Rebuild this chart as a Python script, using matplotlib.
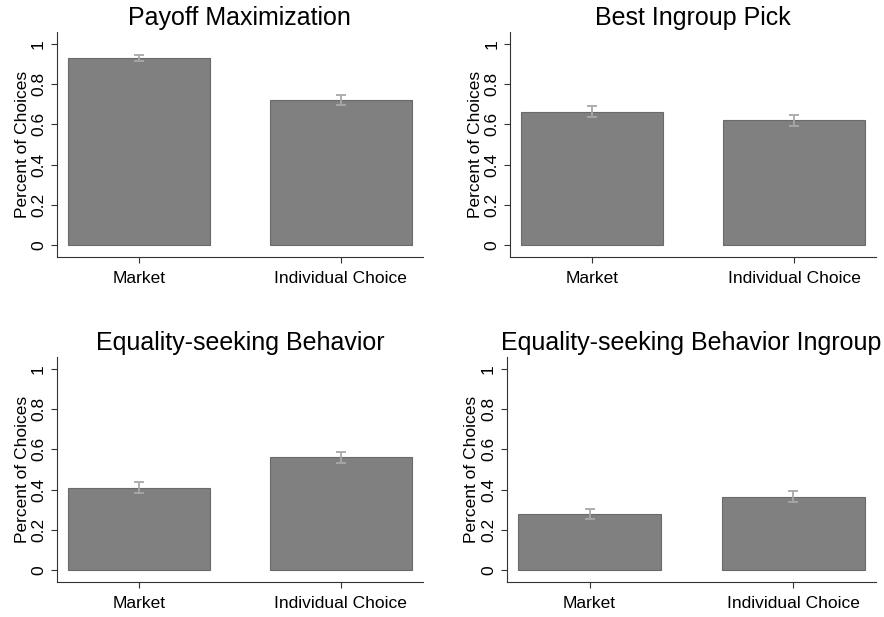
import matplotlib.pyplot as plt

plt.rcParams['font.family'] = ['Liberation Sans', 'DejaVu Sans']

# data
groups = ['Market', 'Individual Choice']
titles = ['Payoff Maximization', 'Best Ingroup Pick',
          'Equality-seeking Behavior', 'Equality-seeking Behavior Ingroup']
means = [[0.930, 0.719],
         [0.663, 0.620],
         [0.407, 0.560],
         [0.279, 0.365]]
lower = [[0.915, 0.696],
         [0.638, 0.593],
         [0.382, 0.532],
         [0.254, 0.340]]
upper = [[0.945, 0.744],
         [0.691, 0.648],
         [0.436, 0.587],
         [0.305, 0.393]]
yticks = [0, 0.2, 0.4, 0.6, 0.8, 1]
ytick_labels = ['0', '0.2', '0.4', '0.6', '0.8', '1']

W, H = 884, 617
fig = plt.figure(figsize=(W / 100, H / 100), dpi=100)

# axes boxes in pixels: left, right, top, bottom
boxes = [(57, 422.7, 32.3, 256.7),
         (510.3, 876, 32.3, 256.7),
         (57, 422.7, 357.3, 581.7),
         (507, 876, 357.3, 581.7)]

for k in range(4):
    l, r, t, b = boxes[k]
    ax = fig.add_axes([l / W, 1 - b / H, (r - l) / W, (b - t) / H])
    x = list(range(len(groups)))
    ax.bar(x, means[k], width=0.7, color='#808080', edgecolor='#6a6a6a', linewidth=0.8)
    err = [[m - lo for m, lo in zip(means[k], lower[k])],
           [u - m for m, u in zip(means[k], upper[k])]]
    ax.errorbar(x, means[k], yerr=err, fmt='none', ecolor='#a8a8a8',
                elinewidth=1.3, capsize=3.3, capthick=1.3)
    ax.set_xlim(-0.405, 1.405)
    ax.set_ylim(-0.057, 1.057)
    ax.set_xticks(x)
    ax.set_xticklabels(groups, fontsize=12.5)
    ax.set_yticks(yticks)
    ax.set_yticklabels(ytick_labels, fontsize=12.5, rotation=90, va='center')
    ax.set_ylabel('Percent of Choices', fontsize=12.5, labelpad=1)
    ax.set_title(titles[k], fontsize=18, pad=5)
    ax.spines['top'].set_visible(False)
    ax.spines['right'].set_visible(False)
    ax.spines['left'].set_color('#333333')
    ax.spines['bottom'].set_color('#333333')
    ax.tick_params(length=4.5, color='#333333', pad=3.5)
    ax.tick_params(axis='x', pad=6)

plt.savefig('out.png', dpi=100)
